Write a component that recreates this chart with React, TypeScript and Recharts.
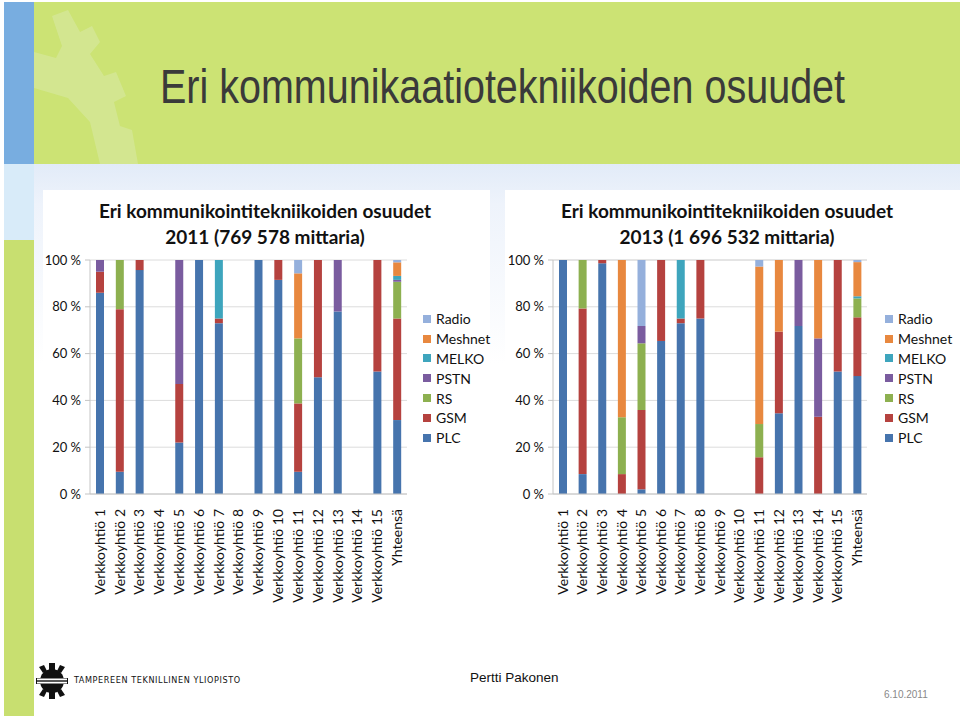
import React from "react";
import { BarChart, Bar, XAxis, YAxis, CartesianGrid } from "recharts";

const categories = [
  "Verkkoyhtiö 1", "Verkkoyhtiö 2", "Verkkoyhtiö 3", "Verkkoyhtiö 4", "Verkkoyhtiö 5",
  "Verkkoyhtiö 6", "Verkkoyhtiö 7", "Verkkoyhtiö 8", "Verkkoyhtiö 9", "Verkkoyhtiö 10",
  "Verkkoyhtiö 11", "Verkkoyhtiö 12", "Verkkoyhtiö 13", "Verkkoyhtiö 14", "Verkkoyhtiö 15",
  "Yhteensä",
];

// stack order bottom -> top
const seriesNames = ["PLC", "GSM", "RS", "PSTN", "MELKO", "Meshnet", "Radio"];
const seriesColors = ["#4674ad", "#b5423f", "#8db050", "#7a5c9f", "#3ea5bd", "#e8883f", "#95b0dc"];
const yTicks = [0, 20, 40, 60, 80, 100];

// 2011 shares (%)
const plc2011 = [86, 9.5, 95.7, 0, 22, 100, 73, 0, 100, 91.5, 9.5, 49.9, 78, 0, 52.3, 31.6];
const gsm2011 = [9, 69.5, 4.3, 0, 25, 0, 2, 0, 0, 8.5, 29.2, 50.1, 0, 0, 47.7, 43.4];
const rs2011 = [0, 21, 0, 0, 0, 0, 0, 0, 0, 0, 27.8, 0, 0, 0, 0, 15.7];
const pstn2011 = [5, 0, 0, 0, 53, 0, 0, 0, 0, 0, 0, 0, 22, 0, 0, 0.8];
const melko2011 = [0, 0, 0, 0, 0, 0, 25, 0, 0, 0, 0, 0, 0, 0, 0, 1.7];
const meshnet2011 = [0, 0, 0, 0, 0, 0, 0, 0, 0, 0, 27.8, 0, 0, 0, 0, 5.8];
const radio2011 = [0, 0, 0, 0, 0, 0, 0, 0, 0, 0, 5.7, 0, 0, 0, 0, 1.0];

// 2013 shares (%)
const plc2013 = [100, 8.5, 98.6, 0, 2, 65.4, 73, 75, 0, 0, 0, 34.5, 71.8, 0, 52.3, 50.4];
const gsm2013 = [0, 70.8, 1.4, 8.5, 33.9, 34.6, 2, 25, 0, 0, 15.7, 34.9, 0, 33, 47.7, 25.1];
const rs2013 = [0, 20.7, 0, 24.3, 28.5, 0, 0, 0, 0, 0, 14.2, 0, 0, 0, 0, 8.1];
const pstn2013 = [0, 0, 0, 0, 7.4, 0, 0, 0, 0, 0, 0, 0, 28.2, 33.5, 0, 0];
const melko2013 = [0, 0, 0, 0, 0, 0, 25, 0, 0, 0, 0, 0, 0, 0, 0, 0.9];
const meshnet2013 = [0, 0, 0, 67.2, 0, 0, 0, 0, 0, 0, 67.3, 30.6, 0, 33.5, 0, 14.6];
const radio2013 = [0, 0, 0, 0, 28.2, 0, 0, 0, 0, 0, 2.8, 0, 0, 0, 0, 0.9];

const buildRows = (cols: number[][]) =>
  categories.map((name, i) => {
    const row: any = { name };
    seriesNames.forEach((s, k) => (row[s] = cols[k][i]));
    return row;
  });

const rows2011 = buildRows([plc2011, gsm2011, rs2011, pstn2011, melko2011, meshnet2011, radio2011]);
const rows2013 = buildRows([plc2013, gsm2013, rs2013, pstn2013, melko2013, meshnet2013, radio2013]);

const FONT = "Lato, 'Open Sans', sans-serif";

const CatTick = (props: any) => {
  const { x, y, payload } = props;
  return (
    <text
      x={x}
      y={y + 7}
      transform={`rotate(-90 ${x} ${y + 7})`}
      textAnchor="end"
      dy="0.35em"
      fontFamily={FONT}
      fontSize={14}
      fill="#111"
    >
      {payload.value}
    </text>
  );
};

function StackChart({ data, left, width, marginRight }: any) {
  return (
    <div style={{ position: "absolute", left, top: 250 }}>
      <BarChart
        width={width}
        height={370}
        data={data}
        margin={{ top: 10, right: marginRight, bottom: 0, left: 0 }}
        barSize={8}
      >
        <CartesianGrid vertical={false} stroke="#dcdcdc" />
        <XAxis
          dataKey="name"
          interval={0}
          height={126}
          tick={<CatTick />}
          tickLine={false}
          axisLine={{ stroke: "#c4c4c4" }}
        />
        <YAxis
          width={50}
          domain={[0, 100]}
          ticks={yTicks}
          tickFormatter={(v: number) => `${v} %`}
          tick={{ fontFamily: FONT, fontSize: 13, fill: "#111" }}
          tickSize={5}
          tickMargin={4}
          tickLine={{ stroke: "#c4c4c4" }}
          axisLine={{ stroke: "#c4c4c4" }}
        />
        {seriesNames.map((s, k) => (
          <Bar key={s} dataKey={s} stackId="a" fill={seriesColors[k]} isAnimationActive={false} />
        ))}
      </BarChart>
    </div>
  );
}

function LegendBox({ left }: { left: number }) {
  const items = [...seriesNames].reverse();
  const colors = [...seriesColors].reverse();
  return (
    <div style={{ position: "absolute", left, top: 309, fontFamily: FONT, fontSize: 14, color: "#111" }}>
      {items.map((s, i) => (
        <div key={s} style={{ display: "flex", alignItems: "center", height: 19.8 }}>
          <span style={{ width: 8, height: 8, background: colors[i], marginRight: 5, display: "inline-block" }} />
          {s}
        </div>
      ))}
    </div>
  );
}

function ChartTitle({ center, lines }: { center: number; lines: string[] }) {
  return (
    <div
      style={{
        position: "absolute",
        left: center - 230,
        width: 460,
        top: 198,
        textAlign: "center",
        fontFamily: FONT,
        fontWeight: 700,
        fontSize: 19,
        lineHeight: "26px",
        color: "#111",
      }}
    >
      {lines.map((l) => (
        <div key={l}>{l}</div>
      ))}
    </div>
  );
}

function Logo() {
  return (
    <svg width={32} height={36} viewBox="0 0 32 36" style={{ position: "absolute", left: 36, top: 663 }}>
      <g fill="#111">
        <rect x="13" y="0" width="6" height="7" />
        <rect x="13" y="29" width="6" height="7" />
        <polygon points="3,4 8,2 11,8 7,10" />
        <polygon points="29,4 24,2 21,8 25,10" />
        <polygon points="3,32 8,34 11,28 7,26" />
        <polygon points="29,32 24,34 21,28 25,26" />
        <rect x="0" y="15" width="5" height="6" />
        <rect x="27" y="15" width="5" height="6" />
        <circle cx="16" cy="18" r="12" />
      </g>
      <rect x="1" y="15.5" width="30" height="5" fill="#fff" />
      <rect x="1" y="17.3" width="30" height="1.4" fill="#111" />
    </svg>
  );
}

export default function App() {
  return (
    <div style={{ position: "absolute", left: 0, top: 0, width: 960, height: 716, background: "#fff", overflow: "hidden" }}>
      {/* header */}
      <div style={{ position: "absolute", left: 34, top: 2, width: 926, height: 162, background: "#cce374" }} />
      <svg width={140} height={162} style={{ position: "absolute", left: 34, top: 2 }}>
        <path
          d="M18 14 L34 8 L46 30 L58 24 L66 40 L56 52 L70 74 L82 70 L92 94 L80 100 L86 124 L98 128 L104 162 L66 162 L56 120 L34 96 L0 86 L0 50 L22 56 L28 44 Z"
          fill="#d8eaa8"
          opacity={0.55}
        />
      </svg>
      <div style={{ position: "absolute", left: 4, top: 2, width: 30, height: 162, background: "#78ade0" }} />
      <div style={{ position: "absolute", left: 4, top: 164, width: 30, height: 76, background: "#d8ebf9" }} />
      <div style={{ position: "absolute", left: 4, top: 240, width: 30, height: 476, background: "#c8df70" }} />
      <div
        style={{
          position: "absolute",
          left: 34,
          top: 164,
          width: 926,
          height: 200,
          background: "linear-gradient(to bottom, #e2ebf8 0%, #eef3fb 20%, #ffffff 100%)",
        }}
      />
      <div style={{ position: "absolute", left: 43, top: 190, width: 447, height: 430, background: "#fff" }} />
      <div style={{ position: "absolute", left: 505, top: 190, width: 455, height: 430, background: "#fff" }} />

      <div
        style={{
          position: "absolute",
          left: 160,
          top: 60,
          fontFamily: "'Liberation Sans', Arial, sans-serif",
          fontSize: 39.5,
          color: "#3a3a3a",
          whiteSpace: "nowrap",
          transform: "scaleY(1.2)",
          transformOrigin: "left top",
        }}
      >
        Eri kommunikaatiotekniikoiden osuudet
      </div>

      <ChartTitle center={265} lines={["Eri kommunikointitekniikoiden osuudet", "2011 (769 578 mittaria)"]} />
      <ChartTitle center={727} lines={["Eri kommunikointitekniikoiden osuudet", "2013 (1 696 532 mittaria)"]} />

      <StackChart data={rows2011} left={40} width={380} marginRight={13} />
      <StackChart data={rows2013} left={503} width={380} marginRight={16} />

      <LegendBox left={423} />
      <LegendBox left={885} />

      {/* footer */}
      <Logo />
      <div
        style={{
          position: "absolute",
          left: 74,
          top: 675,
          fontFamily: "'DejaVu Sans Condensed', 'Liberation Sans', sans-serif",
          fontSize: 9,
          letterSpacing: 0.6,
          color: "#111",
          whiteSpace: "nowrap",
        }}
      >
        TAMPEREEN TEKNILLINEN YLIOPISTO
      </div>
      <div
        style={{
          position: "absolute",
          left: 470,
          top: 670,
          fontFamily: "'Liberation Sans', Arial, sans-serif",
          fontSize: 13.5,
          color: "#111",
        }}
      >
        Pertti Pakonen
      </div>
      <div
        style={{
          position: "absolute",
          left: 884,
          top: 689,
          fontFamily: "'Liberation Sans', Arial, sans-serif",
          fontSize: 10,
          color: "#888",
        }}
      >
        6.10.2011
      </div>
    </div>
  );
}
